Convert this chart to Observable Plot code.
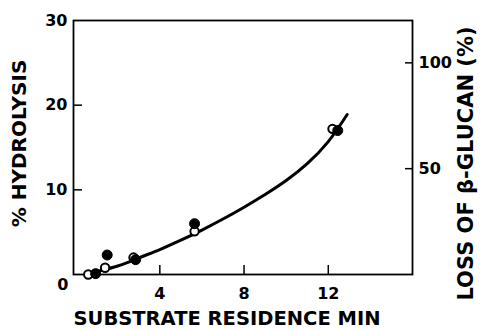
<!DOCTYPE html>
<html>
<head>
<meta charset="utf-8">
<script src="https://cdn.jsdelivr.net/npm/d3@7"></script>
<script src="https://cdn.jsdelivr.net/npm/@observablehq/plot@0.6"></script>
<style>
  html, body { margin: 0; padding: 0; background: #fff; }
</style>
</head>
<body>
<div id="chart"></div>
<script>
// Tick values
const xTicks = [4, 8, 12];
const yTicks = [10, 20, 30];
const rightTicks = [50, 100]; // loss of β-glucan (%), 4 × hydrolysis scale

// Open circles
const openX = [0.6, 1.4, 2.75, 5.65, 12.2];
const openY = [0.0, 0.8, 2.0, 5.1, 17.2];
// Filled circles
const filledX = [0.95, 1.5, 2.85, 5.65, 12.45];
const filledY = [0.1, 2.3, 1.75, 6.0, 17.0];
// Fitted curve
const curveX = [0.5, 1, 2, 3, 4, 5, 6, 7, 8, 9, 10, 11, 12, 12.9];
const curveY = [0.0, 0.35, 1.0, 1.95, 2.95, 4.05, 5.25, 6.55, 7.95, 9.45, 11.1, 13.1, 15.7, 18.9];

const openData = openX.map((x, i) => ({x, y: openY[i]}));
const filledData = filledX.map((x, i) => ({x, y: filledY[i]}));
const curveData = curveX.map((x, i) => ({x, y: curveY[i]}));

const font = "'DejaVu Sans', sans-serif";

const chart = Plot.plot({
  width: 482,
  height: 330,
  marginLeft: 73,
  marginRight: 70,
  marginTop: 20,
  marginBottom: 56,
  x: {domain: [-0.1, 16]},
  y: {domain: [0, 30]},
  style: {fontFamily: font, fontWeight: "bold", fontSize: "16px", color: "black", background: "white"},
  marks: [
    Plot.frame({stroke: "black", strokeWidth: 1.8}),
    // inward tick marks
    Plot.axisX({ticks: xTicks, tickSize: -9, tickFormat: () => "", label: null, strokeWidth: 1.5}),
    Plot.axisY({ticks: [10, 20], tickSize: -9, tickFormat: () => "", label: null, strokeWidth: 1.5}),
    Plot.axisY(rightTicks.map(v => v / 4), {anchor: "right", tickSize: -8, tickFormat: () => "", label: null, strokeWidth: 1.5}),
    // tick labels
    Plot.axisX({ticks: xTicks, tickSize: 0, tickPadding: 13, label: null, fontSize: 16}),
    Plot.axisY({ticks: yTicks, tickSize: 0, tickPadding: 6, label: null, fontSize: 16}),
    Plot.axisY([0], {tickSize: 0, tickPadding: 5, dy: 10, label: null, fontSize: 16}),
    Plot.axisY(rightTicks.map(v => v / 4), {anchor: "right", tickSize: 0, tickPadding: 6, tickFormat: d => d * 4, label: null, fontSize: 16}),
    // axis titles
    Plot.text(["SUBSTRATE RESIDENCE MIN"], {frameAnchor: "bottom", textAnchor: "middle", dx: -16, dy: 44, lineAnchor: "middle", fontSize: 19.5, fontWeight: "bold"}),
    Plot.text(["% HYDROLYSIS"], {frameAnchor: "left", textAnchor: "middle", rotate: -90, dx: -54, dy: -4, lineAnchor: "middle", fontSize: 20, fontWeight: "bold"}),
    Plot.text(["LOSS OF β-GLUCAN (%)"], {frameAnchor: "right", textAnchor: "middle", rotate: -90, dx: 54, dy: 16, lineAnchor: "middle", fontSize: 21, fontWeight: "bold"}),
    // curve
    Plot.line(curveData, {x: "x", y: "y", curve: "natural", stroke: "black", strokeWidth: 3}),
    // points
    Plot.dot(openData, {x: "x", y: "y", r: 4.2, fill: "white", stroke: "black", strokeWidth: 2}),
    Plot.dot(filledData, {x: "x", y: "y", r: 5, fill: "black", stroke: "black", strokeWidth: 1})
  ]
});

document.getElementById("chart").appendChild(chart);
</script>
</body>
</html>
